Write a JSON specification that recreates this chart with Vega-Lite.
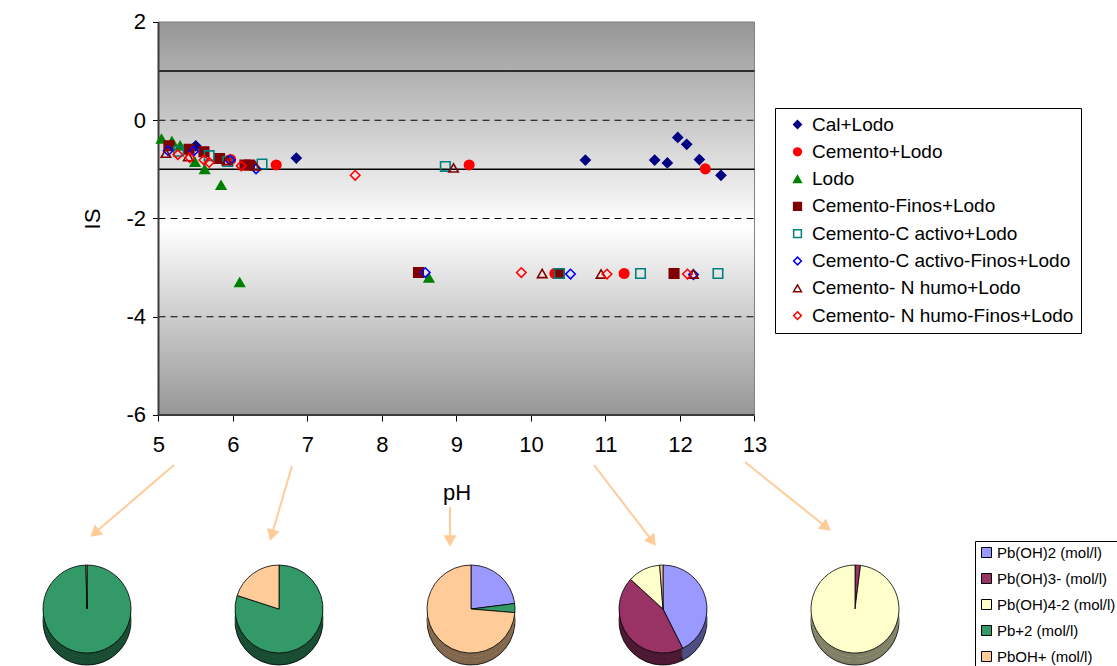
{
  "$schema": "https://vega.github.io/schema/vega-lite/v6.json",
  "width": 1117,
  "height": 666,
  "autosize": {"type": "none"},
  "padding": 0,
  "background": "white",
  "config": {
    "font": "Liberation Sans",
    "view": {"stroke": null},
    "axis": {"grid": false}
  },
  "datasets": {
    "puntos": [
      {"serie": "Cal+Lodo", "pH": 5.50, "IS": -0.52},
      {"serie": "Cal+Lodo", "pH": 6.85, "IS": -0.77},
      {"serie": "Cal+Lodo", "pH": 10.73, "IS": -0.81},
      {"serie": "Cal+Lodo", "pH": 11.66, "IS": -0.81},
      {"serie": "Cal+Lodo", "pH": 11.83, "IS": -0.87},
      {"serie": "Cal+Lodo", "pH": 11.97, "IS": -0.35},
      {"serie": "Cal+Lodo", "pH": 12.09, "IS": -0.49},
      {"serie": "Cal+Lodo", "pH": 12.26, "IS": -0.80},
      {"serie": "Cal+Lodo", "pH": 12.55, "IS": -1.12},
      {"serie": "Cemento+Lodo", "pH": 5.97, "IS": -0.80},
      {"serie": "Cemento+Lodo", "pH": 6.58, "IS": -0.91},
      {"serie": "Cemento+Lodo", "pH": 9.17, "IS": -0.91},
      {"serie": "Cemento+Lodo", "pH": 10.32, "IS": -3.12},
      {"serie": "Cemento+Lodo", "pH": 11.25, "IS": -3.12},
      {"serie": "Cemento+Lodo", "pH": 12.34, "IS": -0.99},
      {"serie": "Lodo", "pH": 5.04, "IS": -0.38},
      {"serie": "Lodo", "pH": 5.18, "IS": -0.43},
      {"serie": "Lodo", "pH": 5.29, "IS": -0.52},
      {"serie": "Lodo", "pH": 5.49, "IS": -0.85},
      {"serie": "Lodo", "pH": 5.62, "IS": -1.00},
      {"serie": "Lodo", "pH": 5.84, "IS": -1.32},
      {"serie": "Lodo", "pH": 6.09, "IS": -3.30},
      {"serie": "Lodo", "pH": 8.63, "IS": -3.21},
      {"serie": "Cemento-Finos+Lodo", "pH": 5.14, "IS": -0.52},
      {"serie": "Cemento-Finos+Lodo", "pH": 5.41, "IS": -0.59},
      {"serie": "Cemento-Finos+Lodo", "pH": 5.61, "IS": -0.64},
      {"serie": "Cemento-Finos+Lodo", "pH": 5.82, "IS": -0.78},
      {"serie": "Cemento-Finos+Lodo", "pH": 6.16, "IS": -0.91},
      {"serie": "Cemento-Finos+Lodo", "pH": 6.22, "IS": -0.91},
      {"serie": "Cemento-Finos+Lodo", "pH": 8.49, "IS": -3.10},
      {"serie": "Cemento-Finos+Lodo", "pH": 10.38, "IS": -3.12},
      {"serie": "Cemento-Finos+Lodo", "pH": 11.92, "IS": -3.12},
      {"serie": "Cemento-C activo+Lodo", "pH": 5.27, "IS": -0.63},
      {"serie": "Cemento-C activo+Lodo", "pH": 5.68, "IS": -0.72},
      {"serie": "Cemento-C activo+Lodo", "pH": 5.93, "IS": -0.84},
      {"serie": "Cemento-C activo+Lodo", "pH": 6.39, "IS": -0.89},
      {"serie": "Cemento-C activo+Lodo", "pH": 8.85, "IS": -0.94},
      {"serie": "Cemento-C activo+Lodo", "pH": 10.38, "IS": -3.12},
      {"serie": "Cemento-C activo+Lodo", "pH": 11.47, "IS": -3.12},
      {"serie": "Cemento-C activo+Lodo", "pH": 12.51, "IS": -3.12},
      {"serie": "Cemento-C activo-Finos+Lodo", "pH": 5.13, "IS": -0.62},
      {"serie": "Cemento-C activo-Finos+Lodo", "pH": 5.47, "IS": -0.63},
      {"serie": "Cemento-C activo-Finos+Lodo", "pH": 5.96, "IS": -0.81},
      {"serie": "Cemento-C activo-Finos+Lodo", "pH": 6.31, "IS": -0.99},
      {"serie": "Cemento-C activo-Finos+Lodo", "pH": 8.58, "IS": -3.10},
      {"serie": "Cemento-C activo-Finos+Lodo", "pH": 10.53, "IS": -3.13},
      {"serie": "Cemento-C activo-Finos+Lodo", "pH": 12.18, "IS": -3.14},
      {"serie": "Cemento- N humo+Lodo", "pH": 5.10, "IS": -0.67},
      {"serie": "Cemento- N humo+Lodo", "pH": 5.40, "IS": -0.74},
      {"serie": "Cemento- N humo+Lodo", "pH": 5.92, "IS": -0.82},
      {"serie": "Cemento- N humo+Lodo", "pH": 6.30, "IS": -0.93},
      {"serie": "Cemento- N humo+Lodo", "pH": 8.96, "IS": -0.97},
      {"serie": "Cemento- N humo+Lodo", "pH": 10.15, "IS": -3.12},
      {"serie": "Cemento- N humo+Lodo", "pH": 10.94, "IS": -3.13},
      {"serie": "Cemento- N humo+Lodo", "pH": 12.18, "IS": -3.13},
      {"serie": "Cemento- N humo-Finos+Lodo", "pH": 5.26, "IS": -0.70},
      {"serie": "Cemento- N humo-Finos+Lodo", "pH": 5.42, "IS": -0.76},
      {"serie": "Cemento- N humo-Finos+Lodo", "pH": 5.61, "IS": -0.81},
      {"serie": "Cemento- N humo-Finos+Lodo", "pH": 5.68, "IS": -0.86},
      {"serie": "Cemento- N humo-Finos+Lodo", "pH": 6.11, "IS": -0.93},
      {"serie": "Cemento- N humo-Finos+Lodo", "pH": 7.64, "IS": -1.12},
      {"serie": "Cemento- N humo-Finos+Lodo", "pH": 9.87, "IS": -3.10},
      {"serie": "Cemento- N humo-Finos+Lodo", "pH": 11.02, "IS": -3.13},
      {"serie": "Cemento- N humo-Finos+Lodo", "pH": 12.10, "IS": -3.13}
    ],
    "especiacion": [
      {"muestra": "pH 5", "especie": "Pb+2 (mol/l)", "fraccion": 0.996},
      {"muestra": "pH 5", "especie": "PbOH+ (mol/l)", "fraccion": 0.004},
      {"muestra": "pH 7", "especie": "Pb+2 (mol/l)", "fraccion": 0.80},
      {"muestra": "pH 7", "especie": "PbOH+ (mol/l)", "fraccion": 0.20},
      {"muestra": "pH 9", "especie": "Pb(OH)2 (mol/l)", "fraccion": 0.230},
      {"muestra": "pH 9", "especie": "Pb+2 (mol/l)", "fraccion": 0.033},
      {"muestra": "pH 9", "especie": "PbOH+ (mol/l)", "fraccion": 0.737},
      {"muestra": "pH 11", "especie": "Pb(OH)2 (mol/l)", "fraccion": 0.426},
      {"muestra": "pH 11", "especie": "Pb(OH)3- (mol/l)", "fraccion": 0.442},
      {"muestra": "pH 11", "especie": "Pb(OH)4-2 (mol/l)", "fraccion": 0.120},
      {"muestra": "pH 11", "especie": "PbOH+ (mol/l)", "fraccion": 0.012},
      {"muestra": "pH 13", "especie": "Pb(OH)3- (mol/l)", "fraccion": 0.02},
      {"muestra": "pH 13", "especie": "Pb(OH)4-2 (mol/l)", "fraccion": 0.98}
    ],
    "flechas": [
      {"muestra": "pH 5", "pH1": 5.208, "IS1": -7.018, "pH2": 4.142, "IS2": -8.404},
      {"muestra": "pH 7", "pH1": 6.792, "IS1": -7.038, "pH2": 6.519, "IS2": -8.447},
      {"muestra": "pH 9", "pH1": 8.913, "IS1": -7.873, "pH2": 8.913, "IS2": -8.565},
      {"muestra": "pH 11", "pH1": 10.846, "IS1": -7.018, "pH2": 11.630, "IS2": -8.569},
      {"muestra": "pH 13", "pH1": 12.872, "IS1": -6.957, "pH2": 13.964, "IS2": -8.284}
    ]
  },
  "resolve": {"scale": {"x": "independent"}},
  "layer": [
    {
      "layer": [
        {
          "data": {"values": [{}]},
          "mark": {
            "type": "rect",
            "color": {
              "gradient": "linear",
              "x1": 0, "y1": 0, "x2": 0, "y2": 1,
              "stops": [
                {"offset": 0, "color": "#969696"},
                {"offset": 0.52, "color": "#ffffff"},
                {"offset": 1, "color": "#969696"}
              ]
            },
            "stroke": "#808080",
            "strokeWidth": 1
          },
          "encoding": {
            "x": {"datum": 5, "type": "quantitative", "scale": {"domain": [2.8725, 17.8658], "nice": false, "zero": false}},
            "x2": {"datum": 13},
            "y": {"datum": 2, "type": "quantitative", "scale": {"domain": [-11.1094, 2.4478], "nice": false, "zero": false}},
            "y2": {"datum": -6}
          }
        },
        {
          "data": {"values": [{"IS": 1}, {"IS": -1}]},
          "mark": {"type": "rule", "color": "black", "strokeWidth": 1.5},
          "encoding": {
            "x": {"datum": 5, "type": "quantitative", "scale": {"domain": [2.8725, 17.8658], "nice": false, "zero": false}},
            "x2": {"datum": 13},
            "y": {"field": "IS", "type": "quantitative", "scale": {"domain": [-11.1094, 2.4478], "nice": false, "zero": false}}
          }
        },
        {
          "data": {"values": [{"IS": 0}, {"IS": -2}, {"IS": -4}]},
          "mark": {"type": "rule", "color": "black", "strokeWidth": 1.2, "strokeDash": [7, 5]},
          "encoding": {
            "x": {"datum": 5, "type": "quantitative", "scale": {"domain": [2.8725, 17.8658], "nice": false, "zero": false}},
            "x2": {"datum": 13},
            "y": {"field": "IS", "type": "quantitative", "scale": {"domain": [-11.1094, 2.4478], "nice": false, "zero": false}}
          }
        },
        {
          "data": {"values": [{}]},
          "mark": {"type": "rule", "color": "#3c3c3c", "strokeWidth": 2},
          "encoding": {
            "x": {"datum": 5, "type": "quantitative", "scale": {"domain": [2.8725, 17.8658], "nice": false, "zero": false}},
            "y": {"datum": -6, "type": "quantitative", "scale": {"domain": [-11.1094, 2.4478], "nice": false, "zero": false}},
            "y2": {"datum": 2}
          }
        },
        {
          "data": {"values": [{}]},
          "mark": {"type": "rule", "color": "#3c3c3c", "strokeWidth": 2},
          "encoding": {
            "x": {"datum": 5, "type": "quantitative", "scale": {"domain": [2.8725, 17.8658], "nice": false, "zero": false}},
            "x2": {"datum": 13},
            "y": {"datum": -6, "type": "quantitative", "scale": {"domain": [-11.1094, 2.4478], "nice": false, "zero": false}}
          }
        },
        {
          "data": {"name": "puntos"},
          "mark": {"type": "point", "size": 90, "strokeWidth": 1.6, "opacity": 1},
          "encoding": {
            "x": {
              "field": "pH", "type": "quantitative",
              "scale": {"domain": [2.8725, 17.8658], "nice": false, "zero": false},
              "axis": {
                "title": "pH", "values": [5, 6, 7, 8, 9, 10, 11, 12, 13], "labelExpr": "'' + datum.value",
                "offset": -251, "domain": false, "tickSize": 6, "tickColor": "black", "tickWidth": 1,
                "labelFontSize": 22, "labelColor": "black", "labelPadding": 13,
                "titleFontSize": 22, "titleFontWeight": "normal", "titleColor": "black",
                "titleX": 456.5, "titleY": 77, "titleBaseline": "middle", "titleAlign": "center"
              }
            },
            "y": {
              "field": "IS", "type": "quantitative",
              "scale": {"domain": [-11.1094, 2.4478], "nice": false, "zero": false},
              "axis": {
                "title": "IS", "values": [-6, -4, -2, 0, 2], "labelExpr": "'' + datum.value",
                "offset": -158.5, "domain": false, "tickSize": 6, "tickColor": "black", "tickWidth": 1,
                "labelFontSize": 22, "labelColor": "black", "labelPadding": 7,
                "titleFontSize": 22, "titleFontWeight": "normal", "titleColor": "black",
                "titleX": -66, "titleY": 218.5, "titleAngle": -90, "titleBaseline": "middle", "titleAlign": "center"
              }
            },
            "fill": {
              "field": "serie", "type": "nominal",
              "scale": {
                "domain": ["Cal+Lodo", "Cemento+Lodo", "Lodo", "Cemento-Finos+Lodo", "Cemento-C activo+Lodo", "Cemento-C activo-Finos+Lodo", "Cemento- N humo+Lodo", "Cemento- N humo-Finos+Lodo"],
                "range": ["#000080", "#ff0000", "#008000", "#800000", "transparent", "transparent", "transparent", "transparent"]
              },
              "legend": {"title": null, "orient": "none", "legendX": 775, "legendY": 108, "padding": 7, "strokeColor": "black", "fillColor": "white", "labelFontSize": 19, "labelLimit": 400, "labelColor": "black", "symbolSize": 60, "symbolStrokeWidth": 1.5, "symbolOffset": 6, "labelOffset": 5, "rowPadding": 7.3}
            },
            "stroke": {
              "field": "serie", "type": "nominal",
              "scale": {
                "domain": ["Cal+Lodo", "Cemento+Lodo", "Lodo", "Cemento-Finos+Lodo", "Cemento-C activo+Lodo", "Cemento-C activo-Finos+Lodo", "Cemento- N humo+Lodo", "Cemento- N humo-Finos+Lodo"],
                "range": ["#000080", "#ff0000", "#008000", "#800000", "#008080", "#0000ff", "#800000", "#ff0000"]
              },
              "legend": {"title": null, "orient": "none", "legendX": 775, "legendY": 108, "padding": 7, "strokeColor": "black", "fillColor": "white", "labelFontSize": 19, "labelLimit": 400, "labelColor": "black", "symbolSize": 60, "symbolStrokeWidth": 1.5, "symbolOffset": 6, "labelOffset": 5, "rowPadding": 7.3}
            },
            "shape": {
              "field": "serie", "type": "nominal",
              "scale": {
                "domain": ["Cal+Lodo", "Cemento+Lodo", "Lodo", "Cemento-Finos+Lodo", "Cemento-C activo+Lodo", "Cemento-C activo-Finos+Lodo", "Cemento- N humo+Lodo", "Cemento- N humo-Finos+Lodo"],
                "range": ["diamond", "circle", "triangle-up", "square", "square", "diamond", "triangle-up", "diamond"]
              },
              "legend": {"title": null, "orient": "none", "legendX": 775, "legendY": 108, "padding": 7, "strokeColor": "black", "fillColor": "white", "labelFontSize": 19, "labelLimit": 400, "labelColor": "black", "symbolSize": 60, "symbolStrokeWidth": 1.5, "symbolOffset": 6, "labelOffset": 5, "rowPadding": 7.3}
            }
          }
        },
        {
          "data": {"name": "flechas"},
          "mark": {"type": "rule", "color": "#ffcc99", "strokeWidth": 2},
          "encoding": {
            "x": {"field": "pH1", "type": "quantitative", "scale": {"domain": [2.8725, 17.8658], "nice": false, "zero": false}},
            "x2": {"field": "pH2"},
            "y": {"field": "IS1", "type": "quantitative", "scale": {"domain": [-11.1094, 2.4478], "nice": false, "zero": false}},
            "y2": {"field": "IS2"}
          }
        },
        {
          "data": {"name": "flechas"},
          "mark": {"type": "point", "shape": "triangle-up", "filled": true, "size": 170, "color": "#ffcc99", "opacity": 1},
          "encoding": {
            "x": {"field": "pH2", "type": "quantitative", "scale": {"domain": [2.8725, 17.8658], "nice": false, "zero": false}},
            "y": {"field": "IS2", "type": "quantitative", "scale": {"domain": [-11.1094, 2.4478], "nice": false, "zero": false}},
            "angle": {
              "field": "muestra", "type": "nominal",
              "scale": {"type": "ordinal", "domain": ["pH 5", "pH 7", "pH 9", "pH 11", "pH 13"], "range": [229.5, 196.3, 180, 142.7, 129.1]},
              "legend": null
            }
          }
        }
      ]
    },
    {
      "data": {"name": "especiacion"},
      "transform": [
        {"stack": "fraccion", "groupby": ["muestra"], "sort": [{"field": "especie", "order": "ascending"}], "offset": "normalize", "as": ["t0", "t1"]}
      ],
      "encoding": {
        "x": {
          "field": "muestra", "type": "nominal",
          "scale": {"type": "point", "domain": ["pH 5", "pH 7", "pH 9", "pH 11", "pH 13"], "padding": 0.9089, "align": 0.2493},
          "axis": null
        },
        "y": {"datum": -9.95, "type": "quantitative", "scale": {"domain": [-11.1094, 2.4478], "nice": false, "zero": false}},
        "theta": {"field": "t0", "type": "quantitative", "scale": {"domain": [0, 1], "range": [0, 6.283185307]}, "stack": null},
        "theta2": {"field": "t1"},
        "color": {
          "field": "especie", "type": "nominal",
          "scale": {"domain": ["Pb(OH)2 (mol/l)", "Pb(OH)3- (mol/l)", "Pb(OH)4-2 (mol/l)", "Pb+2 (mol/l)", "PbOH+ (mol/l)"], "range": ["#9999ff", "#993366", "#ffffcc", "#339966", "#ffcc99"]},
          "legend": {"title": null, "orient": "none", "legendX": 975, "legendY": 541, "padding": 4, "strokeColor": "black", "fillColor": "white", "symbolType": "square", "symbolSize": 100, "symbolStrokeColor": "black", "symbolStrokeWidth": 1, "labelFontSize": 15, "labelLimit": 300, "labelColor": "black", "rowPadding": 10, "symbolOffset": 0, "labelOffset": 3}
        }
      },
      "layer": [
        {"mark": {"type": "arc", "radius": 44, "yOffset": 12, "stroke": "black", "strokeWidth": 0.8}},
        {"mark": {"type": "arc", "radius": 44, "yOffset": 12, "fillOpacity": 0.5}, "encoding": {"color": {"value": "black"}}},
        {"mark": {"type": "arc", "radius": 44, "yOffset": 8}},
        {"mark": {"type": "arc", "radius": 44, "yOffset": 8, "fillOpacity": 0.5}, "encoding": {"color": {"value": "black"}}},
        {"mark": {"type": "arc", "radius": 44, "yOffset": 4}},
        {"mark": {"type": "arc", "radius": 44, "yOffset": 4, "fillOpacity": 0.5}, "encoding": {"color": {"value": "black"}}},
        {"mark": {"type": "arc", "radius": 44, "stroke": "black", "strokeWidth": 0.8}}
      ]
    }
  ]
}
